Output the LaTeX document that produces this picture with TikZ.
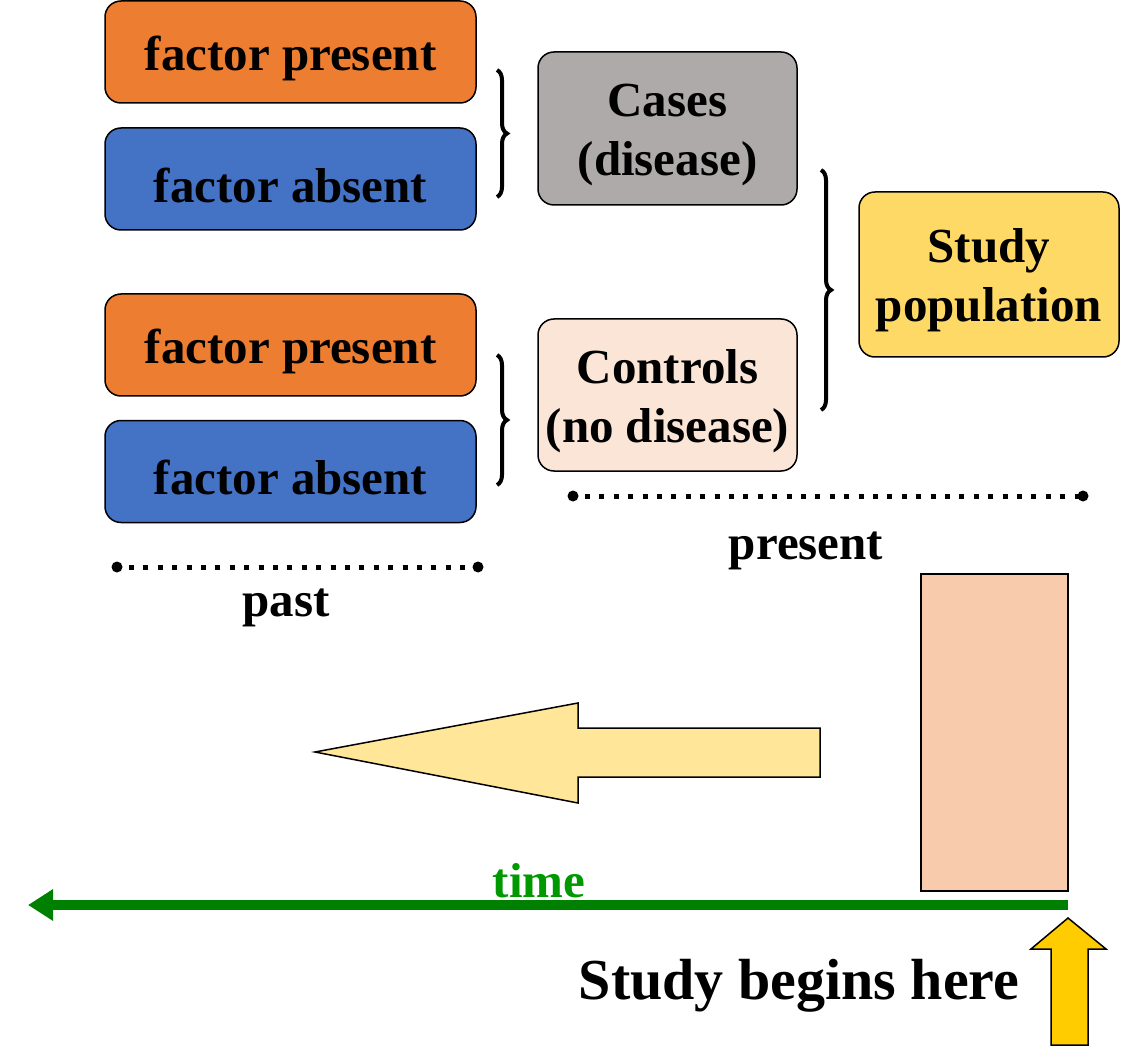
\documentclass[tikz,border=0pt]{standalone}
\usepackage{fontspec}
\setmainfont{Liberation Serif}
\usetikzlibrary{decorations.pathreplacing,arrows.meta,calc}
\definecolor{orangebox}{HTML}{ED7D31}
\definecolor{bluebox}{HTML}{4472C4}
\definecolor{graybox}{HTML}{AEAAAA}
\definecolor{pinkbox}{HTML}{FBE5D6}
\definecolor{yellowbox}{HTML}{FFD966}
\definecolor{arrowfill}{HTML}{FFE699}
\definecolor{rectfill}{HTML}{F8CBAD}
\definecolor{upfill}{HTML}{FFCC00}
\definecolor{timegreen}{HTML}{008000}
\definecolor{timetext}{HTML}{009900}
\tikzset{
  rbox/.style={draw=black,line width=1.5pt,rounded corners=16pt,inner sep=0pt},
  factorbox/.style={rbox,minimum width=371pt,minimum height=102pt},
  groupbox/.style={rbox,minimum width=259pt,minimum height=153pt},
  boxtext/.style={align=center,font=\fontsize{49}{59}\selectfont\bfseries,inner sep=0pt,yshift=-6pt},
  bracepath/.style={decorate,decoration={brace,amplitude=10pt},line width=4pt},
  dotline/.style={line width=5pt,dash pattern=on 5pt off 9.4pt},
  lbl/.style={font=\fontsize{49}{59}\selectfont\bfseries,inner sep=0pt}
}
\begin{document}
\begin{tikzpicture}[x=1pt,y=-1pt]
\useasboundingbox (0,0) rectangle (1135,1048);
% factor boxes
\node[factorbox,fill=orangebox] (f1) at (290.5,52) {};
\node[factorbox,fill=bluebox] (f2) at (290.5,179) {};
\node[factorbox,fill=orangebox] (f3) at (290.5,345) {};
\node[factorbox,fill=bluebox] (f4) at (290.5,471.5) {};
\node[boxtext] (f1t) at (f1) {factor present};
\node[boxtext] (f2t) at (f2) {factor absent};
\node[boxtext] (f3t) at (f3) {factor present};
\node[boxtext] (f4t) at (f4) {factor absent};
% group boxes
\node[groupbox,fill=graybox] (cases) at (667.5,128.5) {};
\node[groupbox,fill=pinkbox,minimum height=152pt] (controls) at (667.5,395) {};
\node[rbox,fill=yellowbox,minimum width=260pt,minimum height=165pt] (study) at (989,274.5) {};
\node[boxtext] (casest) at (cases) {Cases\\(disease)};
\node[boxtext] (controlst) at (controls) {Controls\\(no disease)};
\node[boxtext] (studyt) at (study) {Study\\population};
% braces
\draw[bracepath] (497,70) -- (497,197);
\draw[bracepath] (497,355) -- (497,485);
\draw[bracepath] (821,170) -- (821,410);
% dotted lines
\coordinate (p1) at (117,567);
\coordinate (p2) at (478,567);
\coordinate (q1) at (573,496);
\coordinate (q2) at (1083,496);
\draw[dotline] ($(p1)+(12,0)$) -- (p2);
\fill (p1) circle (5.5pt) (p2) circle (5.5pt);
\draw[dotline] ($(q1)+(12,0)$) -- (q2);
\fill (q1) circle (5.5pt) (q2) circle (5.5pt);
\node[lbl] (past) at (286,608) {past};
\node[lbl] (present) at (806,551) {present};
% big left arrow
\draw[line width=1.5pt,fill=arrowfill] (315,752) -- (578,703) -- (578,728) -- (820,728) -- (820,777) -- (578,777) -- (578,803) -- cycle;
% tall rect
\node[draw=black,line width=2pt,fill=rectfill,minimum width=147pt,minimum height=317pt,inner sep=0pt] (rect) at (994.5,732.5) {};
% time line
\coordinate (tstart) at (1068,905);
\coordinate (tend) at (28,905);
\draw[timegreen,line width=10pt,-{Triangle[length=25pt,width=30pt]}] (tstart) -- (tend);
\node[lbl,text=timetext] (time) at (539,881) {time};
% up arrow
\draw[line width=1.5pt,fill=upfill] (1068,918) -- (1106,949) -- (1088,949) -- (1088,1045) -- (1051,1045) -- (1051,949) -- (1031,949) -- cycle;
\node[font=\fontsize{58}{68}\selectfont\bfseries,inner sep=0pt] (begins) at (799,986) {Study begins here};
\end{tikzpicture}
\end{document}
